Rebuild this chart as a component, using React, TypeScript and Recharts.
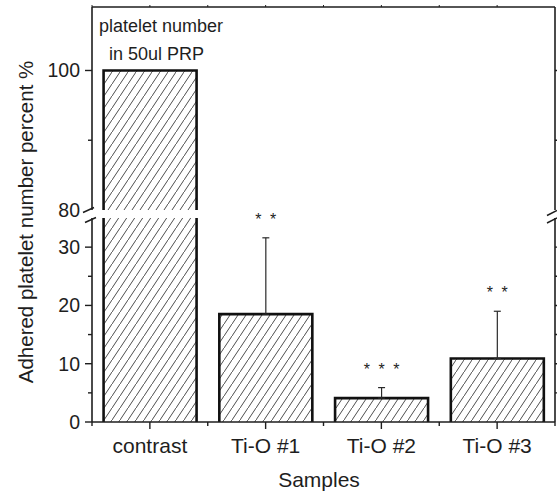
import React from 'react';
import { BarChart, Bar, XAxis, YAxis, ErrorBar, LabelList } from 'recharts';

// Adhered platelets relative to the platelet count in 50 µl PRP
const samples = ['contrast', 'Ti-O #1', 'Ti-O #2', 'Ti-O #3'];
const adheredPercent = [100, 18.5, 4.1, 10.9];
const errorUpper: (number | null)[] = [null, 13.1, 1.8, 8.1];
const starCounts = [0, 2, 3, 2];

// Broken y axis: a lower segment and an upper segment
const lowerDomain: [number, number] = [0, 35];
const upperDomain: [number, number] = [80, 109.1];
const lowerTicks = [0, 5, 10, 15, 20, 25, 30];
const lowerLabels = [0, 10, 20, 30];
const upperTicks = [80, 90, 100];
const upperLabels = [80, 100];

const lowerRows = samples.map((name, i) => ({
  name,
  value: adheredPercent[i],
  err: errorUpper[i] == null ? null : [0, errorUpper[i] as number],
  stars: starCounts[i],
  errTop: errorUpper[i] == null ? 0 : errorUpper[i],
}));

// only bars tall enough to reach the upper segment are drawn there
const upperRows = samples.map((name, i) => ({
  name,
  value: adheredPercent[i] >= upperDomain[0] ? adheredPercent[i] : null,
}));

const INK = '#1e1e1e';
const FONT = '"Liberation Sans", Arial, Helvetica, sans-serif';
const W = 557;
const H = 494;

function HatchedBar(props: any) {
  const { x, y, width, height } = props;
  if (x == null || y == null || !width || height == null) return null;
  const top = Math.min(y, y + height);
  const h = Math.abs(height);
  const base = y + height;
  return (
    <g>
      <rect x={x} y={top} width={width} height={h} fill="url(#hatch45)" />
      <path
        d={`M${x},${base} V${y} H${x + width} V${base}`}
        fill="none"
        stroke="#111"
        strokeWidth={2.6}
      />
    </g>
  );
}

function LeftTick(props: any) {
  const { x, y, payload, labels } = props;
  const v = payload.value;
  const labeled = labels.includes(v);
  const showLine = v !== upperDomain[0];
  const len = labeled ? 7 : 4;
  return (
    <g>
      {showLine && (
        <line x1={x - len} x2={x} y1={y} y2={y} stroke={INK} strokeWidth={1.4} />
      )}
      {labeled && (
        <text
          x={x - 12}
          y={y + 7}
          textAnchor="end"
          fontSize={19.5}
          fill={INK}
          fontFamily={FONT}
        >
          {v}
        </text>
      )}
    </g>
  );
}

function RightTick(props: any) {
  const { x, y } = props;
  return <line x1={x} x2={x + 4} y1={y} y2={y} stroke={INK} strokeWidth={1.4} />;
}

function BottomTick(props: any) {
  const { x, y, payload } = props;
  const half = payload.offset ?? 0;
  const last = payload.value === samples[samples.length - 1];
  return (
    <g>
      <line x1={x} x2={x} y1={y} y2={y + 7} stroke={INK} strokeWidth={1.4} />
      <line x1={x - half} x2={x - half} y1={y} y2={y + 4} stroke={INK} strokeWidth={1.4} />
      {last && (
        <line x1={x + half} x2={x + half} y1={y} y2={y + 4} stroke={INK} strokeWidth={1.4} />
      )}
      <text x={x} y={y + 31} textAnchor="middle" fontSize={21} fill={INK} fontFamily={FONT}>
        {payload.value}
      </text>
    </g>
  );
}

function TopTick(props: any) {
  const { x, y, payload } = props;
  const half = payload.offset ?? 0;
  return (
    <g>
      <line x1={x} x2={x} y1={y - 2} y2={y} stroke={INK} strokeWidth={1} />
      <line x1={x - half} x2={x - half} y1={y - 2} y2={y} stroke={INK} strokeWidth={1} />
    </g>
  );
}

function StarLabel(props: any) {
  const vb = props.viewBox || props;
  const { x, y, width, height } = vb;
  const index = props.index;
  if (index == null || x == null) return null;
  const row = lowerRows[index];
  if (!row || !row.stars) return null;
  const pxPerUnit = height / row.value;
  const errTopY = y - (row.errTop as number) * pxPerUnit;
  const cy = errTopY - 22;
  const cx = x + width / 2;
  const gap = 14.8;
  const items = [];
  for (let i = 0; i < row.stars; i++) {
    const sx = cx + (i - (row.stars - 1) / 2) * gap;
    items.push(
      <text
        key={i}
        x={sx}
        y={cy + 9}
        textAnchor="middle"
        fontSize={16}
        fill={INK}
        fontFamily={FONT}
      >
        *
      </text>
    );
  }
  return <g>{items}</g>;
}

const axisLine = { stroke: INK, strokeWidth: 1.6 };

export default function App() {
  return (
    <div
      style={{
        position: 'absolute',
        left: 0,
        top: 0,
        width: W,
        height: H,
        background: '#fff',
      }}
    >
      <div style={{ position: 'absolute', left: 0, top: 0 }}>
        <BarChart
          width={W}
          height={228}
          data={upperRows}
          margin={{ top: 6, right: 0, bottom: 18, left: 32 }}
          barCategoryGap="10%"
        >
          <XAxis
            dataKey="name"
            orientation="top"
            height={1}
            axisLine={axisLine}
            tickLine={false}
            tickSize={0}
            tickMargin={0}
            tick={<TopTick />}
            interval={0}
          />
          <YAxis
            yAxisId="l"
            type="number"
            domain={upperDomain}
            allowDataOverflow
            ticks={upperTicks}
            width={60}
            axisLine={axisLine}
            tickLine={false}
            tickSize={0}
            tickMargin={0}
            tick={<LeftTick labels={upperLabels} />}
            interval={0}
          />
          <YAxis
            yAxisId="r"
            orientation="right"
            type="number"
            domain={upperDomain}
            allowDataOverflow
            ticks={[90, 100]}
            width={2}
            axisLine={axisLine}
            tickLine={false}
            tickSize={0}
            tickMargin={0}
            tick={<RightTick />}
            interval={0}
          />
          <Bar
            yAxisId="l"
            dataKey="value"
            isAnimationActive={false}
            shape={<HatchedBar />}
          />
        </BarChart>
      </div>
      <div style={{ position: 'absolute', left: 0, top: 0 }}>
        <BarChart
          width={W}
          height={H}
          data={lowerRows}
          margin={{ top: 218, right: 0, bottom: 32, left: 32 }}
          barCategoryGap="10%"
        >
          <XAxis
            dataKey="name"
            height={40}
            axisLine={axisLine}
            tickLine={false}
            tickSize={0}
            tickMargin={0}
            tick={<BottomTick />}
            interval={0}
          />
          <YAxis
            yAxisId="l"
            type="number"
            domain={lowerDomain}
            allowDataOverflow
            ticks={lowerTicks}
            width={60}
            axisLine={axisLine}
            tickLine={false}
            tickSize={0}
            tickMargin={0}
            tick={<LeftTick labels={lowerLabels} />}
            interval={0}
          />
          <YAxis
            yAxisId="r"
            orientation="right"
            type="number"
            domain={lowerDomain}
            allowDataOverflow
            ticks={lowerTicks.slice(1)}
            width={2}
            axisLine={axisLine}
            tickLine={false}
            tickSize={0}
            tickMargin={0}
            tick={<RightTick />}
            interval={0}
          />
          <Bar
            yAxisId="l"
            dataKey="value"
            isAnimationActive={false}
            shape={<HatchedBar />}
          >
            <ErrorBar
              dataKey="err"
              width={3.5}
              stroke="#2a2a2a"
              strokeWidth={1.2}
              direction="y"
            />
            <LabelList dataKey="stars" content={<StarLabel />} />
          </Bar>
        </BarChart>
      </div>
      <svg
        width={W}
        height={H}
        style={{ position: 'absolute', left: 0, top: 0, pointerEvents: 'none' }}
      >
        <defs>
          <pattern id="hatch45" patternUnits="userSpaceOnUse" width={8} height={12}>
            <line x1={-2} y1={15} x2={10} y2={-3} stroke="#3a3a3a" strokeWidth={0.9} />
          </pattern>
        </defs>
        {/* axis break marks */}
        <g stroke={INK} strokeWidth={1.5}>
          <line x1={83} y1={212.5} x2={94} y2={207.5} />
          <line x1={85} y1={222.5} x2={96} y2={217.5} />
          <line x1={547} y1={215.5} x2={557} y2={210.5} />
          <line x1={547} y1={223} x2={557} y2={218} />
        </g>
        <text x={99} y={31.5} fontSize={18} fill={INK} fontFamily={FONT}>
          platelet number
        </text>
        <text x={109} y={59.5} fontSize={18} fill={INK} fontFamily={FONT}>
          in 50ul PRP
        </text>
        <text
          transform="translate(33,222) rotate(-90)"
          textAnchor="middle"
          fontSize={20.5}
          fill={INK}
          fontFamily={FONT}
        >
          Adhered platelet number percent %
        </text>
        <text x={319} y={487} textAnchor="middle" fontSize={21} fill={INK} fontFamily={FONT}>
          Samples
        </text>
      </svg>
    </div>
  );
}
